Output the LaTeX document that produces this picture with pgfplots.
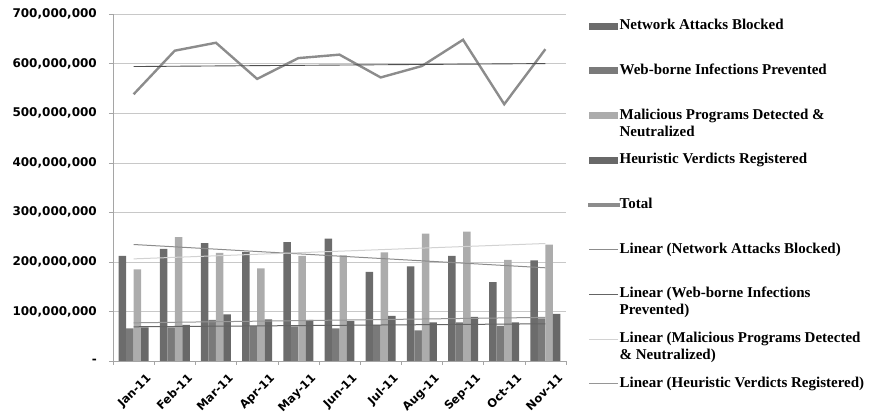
\documentclass[border=0pt]{standalone}
\usepackage{pgfplots}
\usepackage{pgfplotstable}
\pgfplotsset{compat=1.18}
\usepackage{fontspec}
\setmainfont{Liberation Serif}
\newfontfamily\tickfont{DejaVu Sans}

\definecolor{netc}{RGB}{108,108,108}
\definecolor{webc}{RGB}{122,122,122}
\definecolor{malc}{RGB}{172,172,172}
\definecolor{heuc}{RGB}{104,104,104}
\definecolor{totc}{RGB}{140,140,140}
\definecolor{gridc}{RGB}{200,200,200}
\definecolor{axc}{RGB}{165,165,165}

% monthly values, millions
\pgfplotstableread{
x  net web mal heur total
0  212 66  185 68  538
1  226 68  250 73  626
2  238 83  218 94  642
3  220 71  187 84  569
4  240 70  212 83  611
5  247 66  213 81  618
6  180 73  219 91  572
7  191 62  257 78  595
8  212 78  261 89  648
9  159 71  204 78  518
10 203 86  235 95  629
}\datatable

% trend lines (end points)
\pgfplotstableread{
x  net web mal heur total
0  235 69  206 77  594
10 188 75  237 88  600
}\trendtable

\pgfplotsset{
  barleg/.style={legend image code/.code={\fill[##1] (0pt,-3.5pt) rectangle (29pt,3.5pt);}},
  lineleg/.style={legend image code/.code={\draw[##1] (0pt,0pt) -- (29pt,0pt);}},
}

\begin{document}
\begin{tikzpicture}[font=\bfseries]
\path[use as bounding box] (0,0) rectangle (876pt,419pt);
\begin{axis}[
  at={(113pt,58pt)}, anchor=south west,
  width=453pt, height=347pt, scale only axis,
  xmin=-0.5, xmax=10.5, ymin=0, ymax=700,
  axis lines*=left,
  axis line style={draw=axc},
  tick align=outside,
  ytick={0,100,...,700},
  yticklabels={{-},{100,000,000},{200,000,000},{300,000,000},{400,000,000},{500,000,000},{600,000,000},{700,000,000}},
  ymajorgrids, grid style={draw=gridc},
  major tick length=4pt, minor tick length=4pt,
  every tick/.style={draw=axc},
  xtick={0,...,10},
  xticklabels={Jan-11,Feb-11,Mar-11,Apr-11,May-11,Jun-11,Jul-11,Aug-11,Sep-11,Oct-11,Nov-11},
  major x tick style={draw=none},
  minor xtick={-0.5,0.5,...,10.5},
  xticklabel style={rotate=45, anchor=north east, inner sep=1pt, xshift=4pt, yshift=-13pt,
    font=\tickfont\fontsize{11.5}{14}\selectfont\bfseries},
  yticklabel style={font=\tickfont\fontsize{12}{14}\selectfont\bfseries, inner sep=2pt, xshift=-10pt},
  legend style={at={(rel axis cs:1.0486,0.984)}, anchor=north west, draw=none, fill=none,
    inner sep=0pt, row sep=31.7pt,
    font=\fontsize{15}{17}\selectfont\bfseries,
    nodes={text height=10pt, text depth=3pt, inner sep=0pt}},
  legend cell align=left,
  /tikz/every even column/.append style={column sep=4pt},
]
\addplot[ybar, bar width=0.182, bar shift=-0.273, fill=netc, draw=none, barleg] table[x=x,y=net] {\datatable};
\addlegendentry{Network Attacks Blocked}
\addplot[ybar, bar width=0.182, bar shift=-0.091, fill=webc, draw=none, barleg] table[x=x,y=web] {\datatable};
\addlegendentry{Web-borne Infections Prevented}
\addplot[ybar, bar width=0.182, bar shift=0.091, fill=malc, draw=none, barleg] table[x=x,y=mal] {\datatable};
\addlegendentry{\smash{\parbox[t]{260pt}{Malicious Programs Detected \&\\Neutralized}}}
\addplot[ybar, bar width=0.182, bar shift=0.273, fill=heuc, draw=none, barleg] table[x=x,y=heur] {\datatable};
\addlegendentry{Heuristic Verdicts Registered}

\addplot[totc, line width=2.4pt, sharp plot, mark=none,
  legend image code/.code={\fill[totc] (0pt,-1.2pt) rectangle (29pt,1.2pt);}] table[x=x,y=total] {\datatable};
\addlegendentry{Total}

\addplot[color={rgb,255:red,140;green,140;blue,140}, line width=1pt, mark=none, lineleg] table[x=x,y=net] {\trendtable};
\addlegendentry{Linear (Network Attacks Blocked)}
\addplot[color={rgb,255:red,100;green,100;blue,100}, line width=1pt, mark=none, lineleg] table[x=x,y=web] {\trendtable};
\addlegendentry{\smash{\parbox[t]{260pt}{Linear (Web-borne Infections\\Prevented)}}}
\addplot[color={rgb,255:red,210;green,210;blue,210}, line width=1pt, mark=none, lineleg] table[x=x,y=mal] {\trendtable};
\addlegendentry{\smash{\parbox[t]{260pt}{Linear (Malicious Programs Detected\\\& Neutralized)}}}
\addplot[color={rgb,255:red,150;green,150;blue,150}, line width=1pt, mark=none, lineleg] table[x=x,y=heur] {\trendtable};
\addlegendentry{Linear (Heuristic Verdicts Registered)}
\addplot[color={rgb,255:red,80;green,80;blue,80}, line width=0.9pt, mark=none, forget plot] table[x=x,y=total] {\trendtable};
\end{axis}
\end{tikzpicture}
\end{document}
